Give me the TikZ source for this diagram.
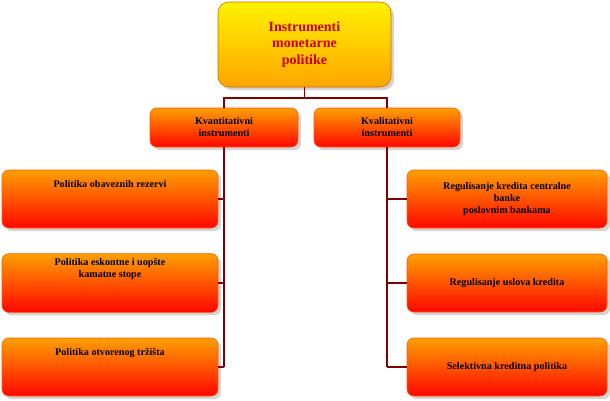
\documentclass[tikz,border=0pt]{standalone}
\usepackage{fontspec}
\setmainfont{Liberation Serif}
\usetikzlibrary{shadows}
\begin{document}
\begin{tikzpicture}[x=0.75pt,y=-0.75pt,
 ob/.style={rounded corners=5pt,draw=orange!70!red,top color=orange!75!yellow,bottom color=red!95!orange,drop shadow={opacity=0.35},font=\bfseries\fontsize{7.6}{9}\selectfont,align=center},
 tb/.style={rounded corners=8pt,draw=orange!80!black,top color=yellow!90!orange,bottom color=orange!70!yellow,drop shadow={opacity=0.35},font=\bfseries\fontsize{10.5}{12.5}\selectfont,text=red!80!black,align=center},
 ln/.style={draw=red!50!black,line width=1.4pt}]
\useasboundingbox (0,0) rectangle (610,400);
\node[tb,minimum width=173*0.75pt,minimum height=85*0.75pt] (top) at (304.5,44.5) {Instrumenti\\monetarne\\politike};
\node[ob,minimum width=148*0.75pt,minimum height=39*0.75pt] (kv) at (224,127.5) {Kvantitativni\\instrumenti};
\node[ob,minimum width=146*0.75pt,minimum height=39*0.75pt] (kl) at (387,127.5) {Kvalitativni\\instrumenti};
\foreach \n/\y/\t in {l1/199/{Politika obaveznih rezervi},l2/283/{Politika eskontne i uopšte\\kamatne stope},l3/367/{Politika otvorenog tržišta}}
 \node[ob,minimum width=216*0.75pt,minimum height=58*0.75pt,text depth=23pt] (\n) at (110,\y) {\t};
\foreach \n/\y/\t in {r1/199/{Regulisanje kredita centralne\\banke\\poslovnim bankama},r2/283/{Regulisanje uslova kredita},r3/367/{Selektivna kreditna politika}}
 \node[ob,minimum width=200*0.75pt,minimum height=58*0.75pt] (\n) at (507,\y) {\t};
\coordinate (j) at (304.5,98);
\draw[ln] (top.south) -- (j);
\draw[ln] (kv.north) |- (j) -| (kl.north);
\foreach \n in {l1,l2,l3} \draw[ln] (224,0|-\n.east) -- (\n.east);
\draw[ln] (kv.south) -- (224,0|-l3.east);
\draw[ln] (kl.south) -- (387,0|-r3.west);
\foreach \n in {r1,r2,r3} \draw[ln] (387,0|-\n.west) -- (\n.west);
\end{tikzpicture}
\end{document}
